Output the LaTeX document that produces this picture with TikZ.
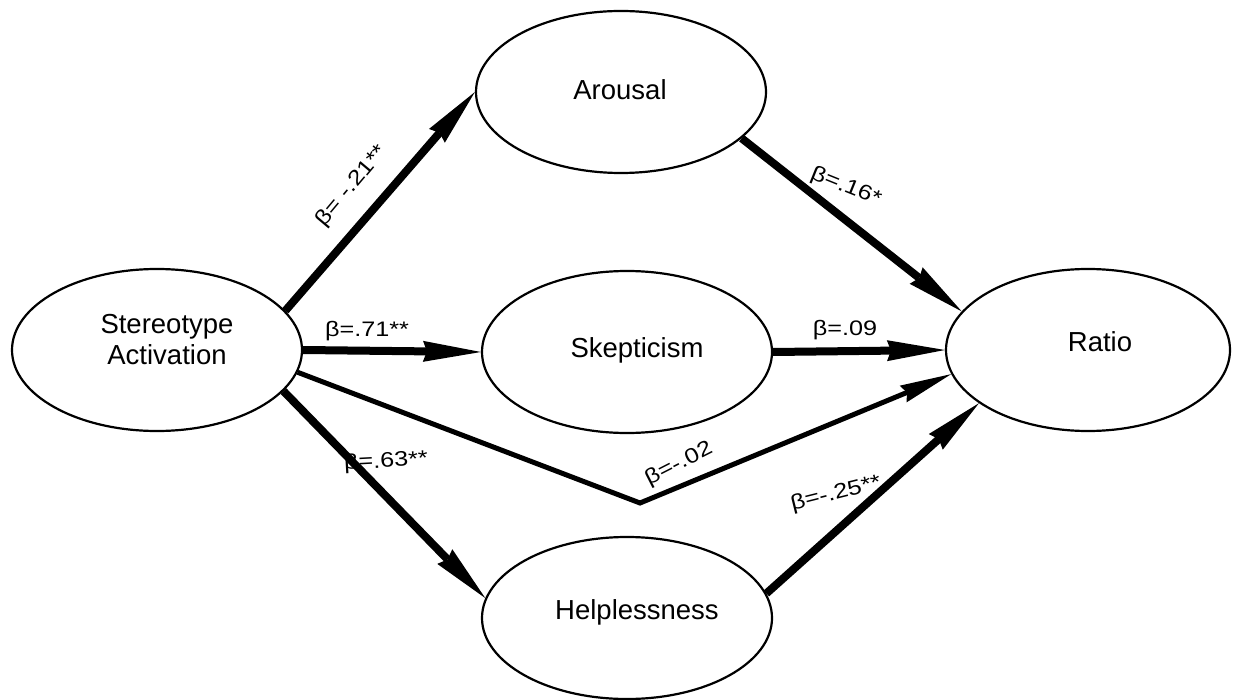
\documentclass[tikz,border=0pt]{standalone}
\usepackage{fontspec}
\setmainfont{Liberation Sans}
\newfontfamily\lblfont[FakeStretch=1.2]{Liberation Sans}
\usetikzlibrary{arrows.meta,shapes.geometric}
\begin{document}
\begin{tikzpicture}[x=1pt,y=-1pt,
  ell/.style={draw, ellipse, line width=2.2pt, minimum width=290pt, minimum height=162pt, inner sep=0pt},
  ntext/.style={font=\fontsize{27.5}{31}\selectfont, align=center, inner sep=0pt},
  lbl/.style={font=\lblfont\fontsize{21}{24}\selectfont, inner sep=0pt},
  conn/.style={line width=8pt, -{Stealth[length=58pt,width=21pt,inset=4pt,line width=0pt]}},
  conn2/.style={line width=5pt, line join=miter, -{Stealth[length=52pt,width=18pt,inset=4pt,line width=0pt]}}
]
\useasboundingbox (0,0) rectangle (1233,700);
% ellipses
\node[ell] (s) at (157,350) {};
\node[ell] (a) at (621,92) {};
\node[ell] (sk) at (627,352) {};
\node[ell] (h) at (627,618) {};
\node[ell, minimum width=284pt] (r) at (1088,350) {};
% texts
\node[ntext] (st) at (167,340) {Stereotype\\Activation};
\node[ntext] (at) at (620,90) {Arousal};
\node[ntext] (skt) at (637,350) {Skepticism};
\node[ntext] (ht) at (637,612) {Helplessness};
\node[ntext] (rt) at (1100,342) {Ratio};
% labels
\node[lbl, rotate=50] (l1) at (352,186) {β= -.21**};
\node[lbl, rotate=-22] (l2) at (846,187) {β=.16*};
\node[lbl] (l3) at (367,331) {β=.71**};
\node[lbl] (l4) at (845,330) {β=.09};
\node[lbl, rotate=27] (l5) at (679,464) {β=-.02};
\node[lbl, rotate=3] (l6) at (386,462) {β=.63**};
\node[lbl, rotate=14] (l7) at (836,494) {β=-.25**};
% connectors
\coordinate (k) at (640,503);
\draw[conn] (s.17) -- (a.west);
\draw[conn] (a.-21) -- (r.163);
\draw[conn] (s.east) -- (sk.west);
\draw[conn] (sk.east) -- (r.west);
\draw[conn2] (s.-9) -- (k) -- (r.190);
\draw[conn] (s.-18) -- (h.172);
\draw[conn] (h.10) -- (r.206);
\end{tikzpicture}
\end{document}
